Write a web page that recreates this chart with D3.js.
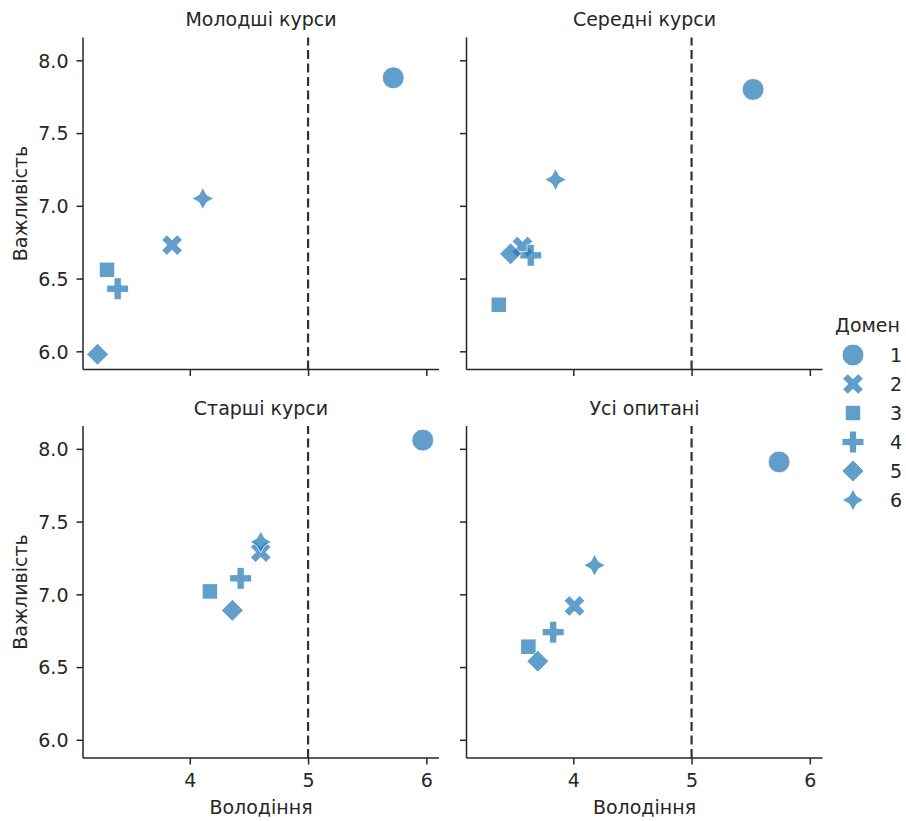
<!DOCTYPE html>
<html>
<head>
<meta charset="utf-8">
<script src="https://cdn.jsdelivr.net/npm/d3@7"></script>
<style>
  body { margin: 0; background: #fff; }
  text { font-family: "DejaVu Sans", sans-serif; fill: #262626; }
</style>
</head>
<body>
<div id="chart"></div>
<script>
// --- data ---
const domains = ["1", "2", "3", "4", "5", "6"];
const panelTitles = ["Молодші курси", "Середні курси", "Старші курси", "Усі опитані"];
// Володіння (x) per panel, one value per domain
const mastery = [
  [5.72, 3.85, 3.30, 3.39, 3.22, 4.11],
  [5.52, 3.57, 3.37, 3.64, 3.47, 3.85],
  [5.97, 4.60, 4.17, 4.43, 4.36, 4.60],
  [5.74, 4.01, 3.62, 3.83, 3.70, 4.18]
];
// Важливість (y) per panel
const importance = [
  [7.88, 6.73, 6.56, 6.43, 5.98, 7.05],
  [7.80, 6.72, 6.32, 6.66, 6.67, 7.18],
  [8.06, 7.29, 7.02, 7.11, 6.89, 7.36],
  [7.91, 6.92, 6.64, 6.74, 6.54, 7.20]
];
const xTicks = [4, 5, 6];
const yTicks = [6.0, 6.5, 7.0, 7.5, 8.0];
const threshold = 5;

const W = 906, H = 821;
const FS = 19;
const svg = d3.select("#chart").append("svg").attr("width", W).attr("height", H);

const pw = 356, ph = 332;
const lefts = [83, 466.5], tops = [37.5, 426];
const x = d3.scaleLinear().domain([3.097, 6.107]).range([0, pw]);
const y = d3.scaleLinear().domain([5.875, 8.157]).range([ph, 0]);

const blue = "#1f77b4";
const M = 22; // marker size in px

// matplotlib-like marker shapes
function markerPath(i, s) {
  const r = s / 2;
  const p = d3.path();
  if (i === 0) { p.arc(0, 0, r, 0, 2 * Math.PI); p.closePath(); return p.toString(); }
  let pts;
  if (i === 1 || i === 3) {
    const a = r, b = r / 3;
    pts = [[b,-a],[b,-b],[a,-b],[a,b],[b,b],[b,a],[-b,a],[-b,b],[-a,b],[-a,-b],[-b,-b],[-b,-a]];
    if (i === 1) {
      const c = Math.SQRT1_2;
      pts = pts.map(([px, py]) => [px * c - py * c, px * c + py * c]);
    }
  } else if (i === 2) {
    const a = r * Math.SQRT1_2;
    pts = [[-a,-a],[a,-a],[a,a],[-a,a]];
  } else if (i === 4) {
    pts = [[0,-r],[r,0],[0,r],[-r,0]];
  } else {
    pts = [];
    for (let k = 0; k < 8; k++) {
      const ang = -Math.PI / 2 + k * Math.PI / 4;
      const rr = k % 2 === 0 ? r : r * 0.5;
      pts.push([rr * Math.cos(ang), rr * Math.sin(ang)]);
    }
  }
  return "M" + pts.map(q => q.join(",")).join("L") + "Z";
}

panelTitles.forEach((title, pi) => {
  const col = pi % 2, row = Math.floor(pi / 2);
  const g = svg.append("g").attr("transform", `translate(${lefts[col]},${tops[row]})`);

  // axes
  const xa = g.append("g").attr("transform", `translate(0,${ph})`)
    .call(d3.axisBottom(x).tickValues(xTicks).tickSize(6.5)
      .tickFormat(row === 1 ? d3.format("d") : () => ""));
  const ya = g.append("g")
    .call(d3.axisLeft(y).tickValues(yTicks).tickSize(6.5).tickPadding(8)
      .tickFormat(col === 0 ? d3.format(".1f") : () => ""));
  [xa, ya].forEach(a => {
    a.select(".domain").attr("stroke", "#262626").attr("stroke-width", 1.5)
      .attr("d", a === xa ? `M0,0H${pw}` : `M0,0V${ph}`);
    a.selectAll(".tick line").attr("stroke", "#262626").attr("stroke-width", 1.5);
    a.selectAll(".tick text").attr("font-size", FS).attr("fill", "#262626")
      .attr("font-family", "DejaVu Sans, sans-serif");
  });
  xa.selectAll(".tick text").attr("dy", 0).attr("y", 29);
  ya.selectAll(".tick text").attr("dy", "0.36em");

  // threshold line (drawn bottom-up like matplotlib)
  g.append("line")
    .attr("x1", x(threshold)).attr("x2", x(threshold))
    .attr("y1", ph).attr("y2", 0)
    .attr("stroke", "#333").attr("stroke-width", 2.2)
    .attr("stroke-dasharray", "9,4.5");

  // points
  g.selectAll("path.pt").data(domains).enter().append("path")
    .attr("class", "pt")
    .attr("transform", (d, i) => `translate(${x(mastery[pi][i])},${y(importance[pi][i])})`)
    .attr("d", (d, i) => markerPath(i, M))
    .attr("fill", blue).attr("stroke", "#fff").attr("stroke-width", 1)
    .attr("opacity", 0.7);

  g.append("text").attr("x", pw / 2).attr("y", -11.5)
    .attr("text-anchor", "middle").attr("font-size", FS).text(title);

  if (row === 1) {
    g.append("text").attr("x", pw / 2).attr("y", ph + 55.5)
      .attr("text-anchor", "middle").attr("font-size", FS).text("Володіння");
  }
  if (col === 0) {
    g.append("text").attr("transform", `translate(${-56},${ph / 2}) rotate(-90)`)
      .attr("text-anchor", "middle").attr("font-size", FS).text("Важливість");
  }
});

// legend
const lg = svg.append("g").attr("transform", "translate(833,0)");
lg.append("text").attr("x", 34.5).attr("y", 332).attr("text-anchor", "middle")
  .attr("font-size", FS).text("Домен");
domains.forEach((d, i) => {
  const cy = 355 + i * 29;
  lg.append("path").attr("transform", `translate(20,${cy})`)
    .attr("d", markerPath(i, M)).attr("fill", blue).attr("stroke", "#fff")
    .attr("stroke-width", 1).attr("opacity", 0.7);
  lg.append("text").attr("x", 57).attr("y", cy + 7).attr("font-size", FS).text(d);
});
</script>
</body>
</html>
